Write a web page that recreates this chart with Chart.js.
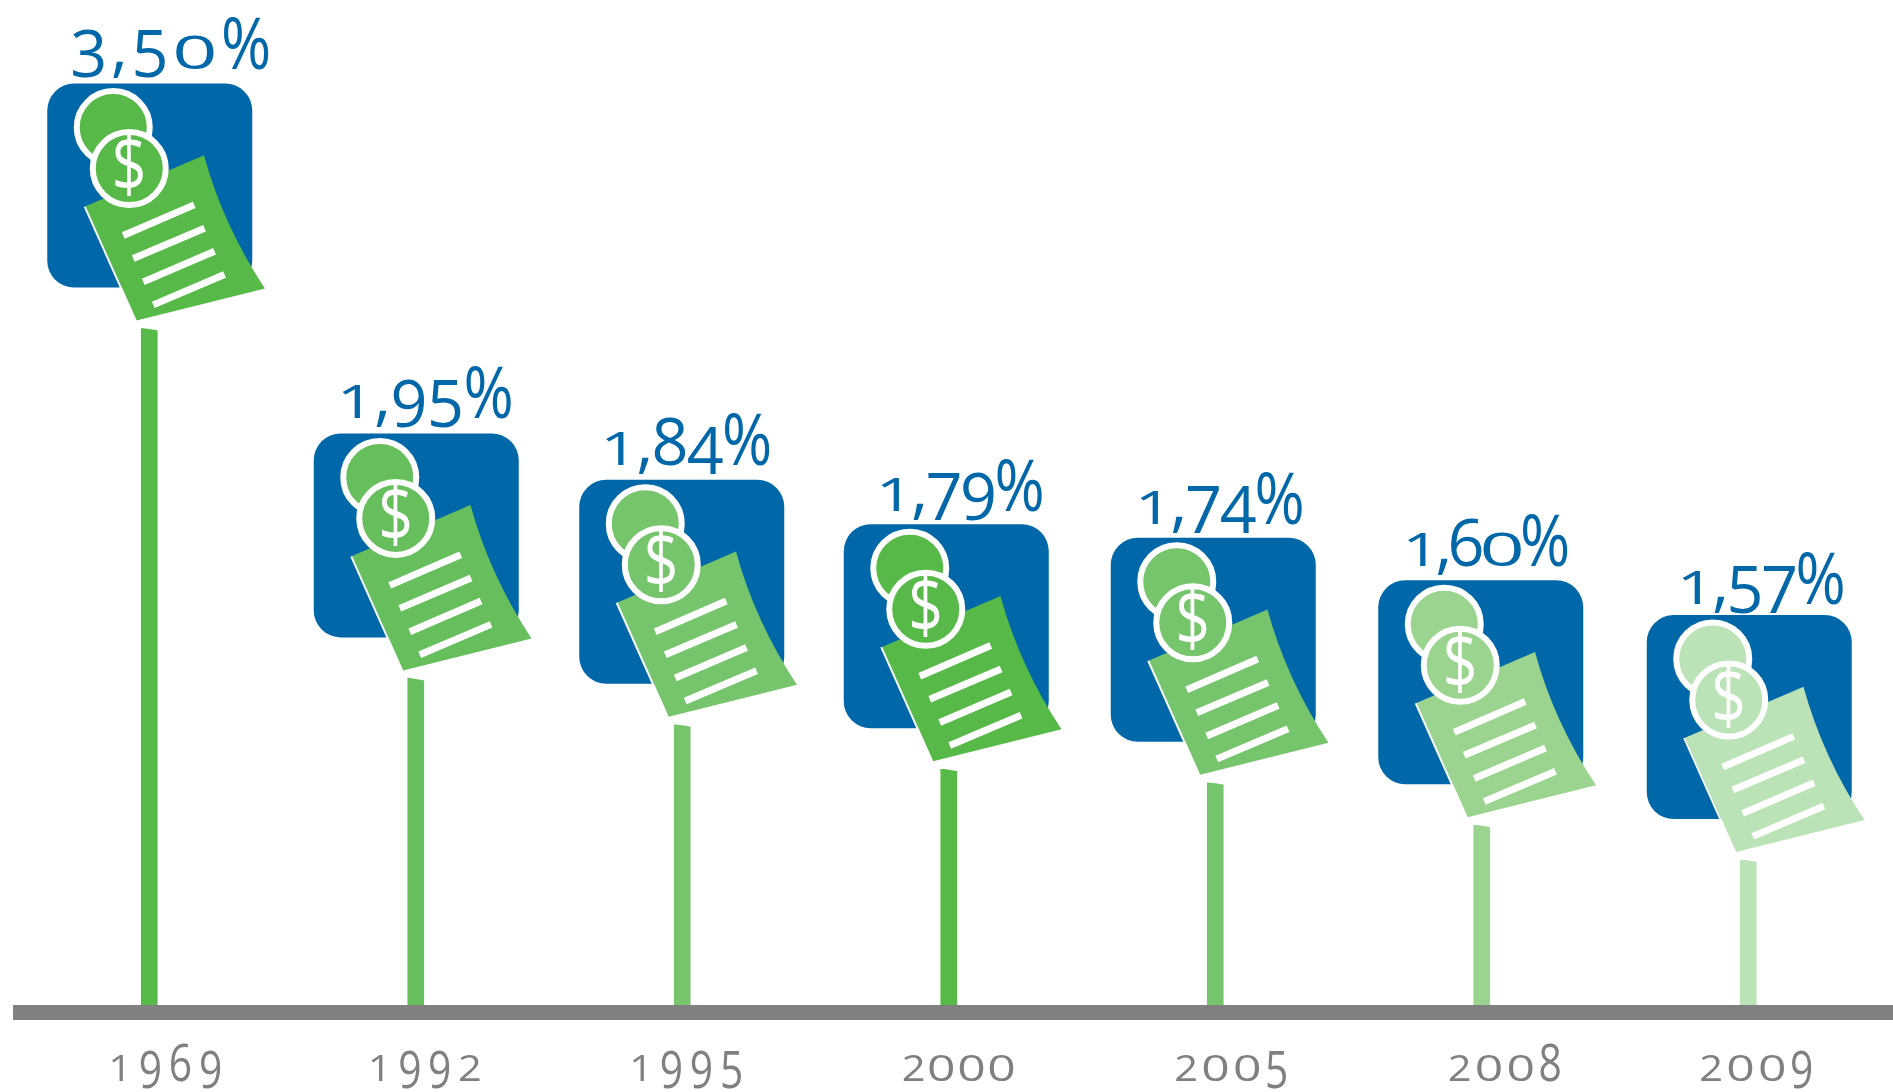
<!DOCTYPE html>
<html>
<head>
<meta charset="utf-8">
<title>Chart</title>
<script src="https://cdn.jsdelivr.net/npm/chart.js@4"></script>
<style>
  html, body { margin: 0; padding: 0; background: #fff; }
  canvas { display: block; }
</style>
</head>
<body>
<canvas id="rateChart" width="1893" height="1092"></canvas>
<script>
// data
const years = ['1969', '1992', '1995', '2000', '2005', '2008', '2009'];
const rates = [3.50, 1.95, 1.84, 1.79, 1.74, 1.60, 1.57];
// the stems are not to scale with the rates, so their drawn height is its own series
const stemHeights = [3.50, 1.69, 1.45, 1.22, 1.15, 0.93, 0.75];
const greens = ['#57b947', '#66bf5c', '#76c56d', '#57b947', '#76c56d', '#9ad48f', '#bce2b7'];

// hand placement of the icons and labels around each stem
const boxShift = [-102, -102, -103, -105, -104.5, -103.5, -101.5];
const rateShift = [23, 23, 21, 32, 24, 24, 30];
const rateWidth = [201, 177, 172, 169, 170, 168, 169];
const rateDrop = [-15, -15, -15, -13, -14, -14, -11];
const yearShift = [-41, -48, -53, -47, -41, -34, -49];

const BLUE = '#0067a9';
const GREY = '#808080';
const RATE_FONT = '500 66px "Open Sans"';
const YEAR_FONT = '400 52px "Open Sans"';

// old-style figures, the installed fonts only have lining ones
function glyphStyle(ch) {
  if (ch === '0') return { sx: 1.2, sy: 0.7, dy: 0 };
  if ('12'.includes(ch)) return { sx: 1.0, sy: 0.7, dy: 0 };
  if ('34579'.includes(ch)) return { sx: 0.98, sy: 1, dy: 0.135 };
  if ('68'.includes(ch)) return { sx: 0.98, sy: 1, dy: 0 };
  if (ch === '%') return { sx: 0.92, sy: 1.08, dy: 0 };
  return { sx: 1, sy: 1, dy: 0 };
}

function drawFigures(ctx, text, left, width, baseline, font, color, squeeze) {
  ctx.save();
  ctx.font = font;
  ctx.fillStyle = color;
  ctx.textAlign = 'left';
  ctx.textBaseline = 'alphabetic';
  const size = parseFloat(font.split(' ')[1]);
  const chars = text.split('');
  const advances = chars.map(c => ctx.measureText(c).width * glyphStyle(c).sx * squeeze);
  const natural = advances.reduce((a, b) => a + b, 0);
  const gap = (width - natural) / (chars.length - 1);
  let x = left;
  chars.forEach((c, i) => {
    const g = glyphStyle(c);
    ctx.save();
    ctx.translate(x, baseline + g.dy * size);
    ctx.scale(g.sx * squeeze, g.sy);
    ctx.fillText(c, 0, 0);
    ctx.restore();
    x += advances[i] + gap;
  });
  ctx.restore();
}

function roundBox(ctx, x, y, w, h, r) {
  ctx.beginPath();
  ctx.roundRect(x, y, w, h, r);
  ctx.fill();
}

function coin(ctx, x, y, color) {
  ctx.beginPath();
  ctx.arc(x, y, 36.5, 0, Math.PI * 2);
  ctx.fillStyle = color;
  ctx.fill();
  ctx.lineWidth = 6;
  ctx.strokeStyle = '#fff';
  ctx.stroke();
}

function drawIcon(ctx, x, y, color) {
  ctx.save();
  ctx.translate(x, y);

  ctx.fillStyle = BLUE;
  roundBox(ctx, 0, 0, 205, 204, 27);

  // paper
  ctx.beginPath();
  ctx.moveTo(38.3, 122.7);
  ctx.lineTo(156.7, 71.7);
  ctx.quadraticCurveTo(176, 142, 217.7, 205);
  ctx.lineTo(89.3, 237);
  ctx.closePath();
  ctx.fillStyle = color;
  ctx.fill();

  ctx.beginPath();
  ctx.moveTo(37.5, 123);
  ctx.lineTo(88.5, 237.5);
  ctx.lineWidth = 2;
  ctx.strokeStyle = '#fff';
  ctx.stroke();

  // text lines on the paper
  ctx.lineWidth = 7;
  [[76, 152, 147, 121.3], [86, 175, 157.3, 144.7], [96, 198.3, 167.3, 167.7], [106, 221.3, 177.3, 191]].forEach(l => {
    ctx.beginPath();
    ctx.moveTo(l[0], l[1]);
    ctx.lineTo(l[2], l[3]);
    ctx.stroke();
  });

  coin(ctx, 66, 44, color);
  coin(ctx, 82, 85, color);

  ctx.save();
  ctx.translate(82, 86);
  ctx.scale(0.8, 1);
  ctx.font = '500 76px "Open Sans"';
  ctx.fillStyle = '#fff';
  ctx.textAlign = 'center';
  ctx.textBaseline = 'middle';
  ctx.fillText('$', 0, 0);
  ctx.restore();

  ctx.restore();
}

const iconPlugin = {
  id: 'iconPlugin',
  afterDatasetsDraw(chart) {
    const ctx = chart.ctx;
    const xScale = chart.scales.x;
    const yScale = chart.scales.y;
    const base = yScale.getPixelForValue(0);

    // ground line
    ctx.fillStyle = GREY;
    ctx.fillRect(13, base, chart.width - 13, 15);

    stemHeights.forEach((h, i) => {
      const cx = xScale.getPixelForValue(i);
      const top = yScale.getPixelForValue(h);
      const boxX = cx + boxShift[i];
      const boxY = top - 245;

      // slanted cut at the head of the stem
      ctx.fillStyle = '#fff';
      ctx.beginPath();
      ctx.moveTo(cx - 9, top - 1);
      ctx.lineTo(cx + 9, top - 1);
      ctx.lineTo(cx + 9, top + 2);
      ctx.closePath();
      ctx.fill();

      drawIcon(ctx, boxX, boxY, greens[i]);

      const label = rates[i].toFixed(2).replace('.', ',') + '%';
      drawFigures(ctx, label, boxX + rateShift[i], rateWidth[i], boxY + rateDrop[i], RATE_FONT, BLUE, 1);

      drawFigures(ctx, years[i], cx + yearShift[i], 114, 1081, YEAR_FONT, GREY, 0.8);
    });
  }
};

const ctx = document.getElementById('rateChart').getContext('2d');
const rateChart = new Chart(ctx, {
  type: 'bar',
  data: {
    labels: years,
    datasets: [{
      label: 'Rate',
      data: stemHeights,
      backgroundColor: greens,
      barThickness: 16,
      borderWidth: 0
    }]
  },
  options: {
    responsive: false,
    animation: false,
    layout: { padding: { left: 16, right: 11.5, top: 0, bottom: 87 } },
    plugins: { legend: { display: false }, tooltip: { enabled: false } },
    scales: {
      x: { display: false },
      y: { display: false, min: 0, max: 5.2 }
    }
  },
  plugins: [iconPlugin]
});
</script>
</body>
</html>
